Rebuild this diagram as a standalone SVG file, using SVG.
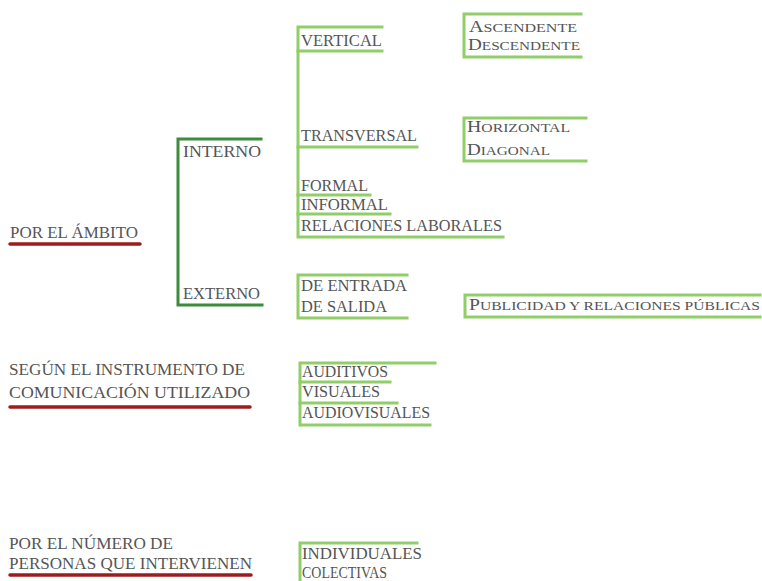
<svg xmlns="http://www.w3.org/2000/svg" width="762" height="581" viewBox="0 0 762 581">
<style>
text{font-family:"Liberation Serif","DejaVu Serif",serif;font-size:17px;fill:#555555;}
.s{text-transform:uppercase;font-size:13.5px;}
.t{font-size:16px;}
.lg{stroke:#8fce68;stroke-width:3;fill:none;stroke-linecap:square;}
.dg{stroke:#3d8b3d;stroke-width:3;fill:none;stroke-linecap:square;}
.rd{stroke:#9c1d1d;stroke-width:3.5;fill:none;stroke-linecap:round;}
</style>
<rect width="762" height="581" fill="#ffffff"/>
<g id="connectors">
<path class="dg" d="M261,139 H178 V305 H262"/>
<path class="lg" d="M382,27 H298 V237 H503"/>
<path class="lg" d="M298,51 H382"/>
<path class="lg" d="M298,147 H417"/>
<path class="lg" d="M298,195 H370"/>
<path class="lg" d="M298,214 H390"/>
<path class="lg" d="M581,14 H464 V57 H581"/>
<path class="lg" d="M586,118 H464 V161 H586"/>
<path class="lg" d="M407,275 H298 V318 H407"/>
<path class="lg" d="M760,295 H465 V317 H760"/>
<path class="lg" d="M435,363 H300 V425 H430"/>
<path class="lg" d="M300,382 H390"/>
<path class="lg" d="M300,403 H397"/>
<path class="lg" d="M417,543 H300 V581"/>
<path class="rd" d="M10,244 H140"/>
<path class="rd" d="M10,407 H250"/>
<path class="rd" d="M10,575 H251"/>
</g>
<g id="n-ambito"><text x="10" y="238" textLength="128" lengthAdjust="spacingAndGlyphs">POR EL ÁMBITO</text></g>
<g id="n-interno"><text x="183" y="157" textLength="78" lengthAdjust="spacingAndGlyphs">INTERNO</text></g>
<g id="n-externo"><text x="183" y="299" textLength="77" lengthAdjust="spacingAndGlyphs">EXTERNO</text></g>
<g id="n-vertical"><text x="301" y="46" textLength="81" lengthAdjust="spacingAndGlyphs">VERTICAL</text></g>
<g id="n-ascdesc">
<text x="469" y="32" textLength="108" lengthAdjust="spacingAndGlyphs">A<tspan class="s">scendente</tspan></text>
<text x="468" y="50" textLength="112" lengthAdjust="spacingAndGlyphs">D<tspan class="s">escendente</tspan></text>
</g>
<g id="n-transversal"><text x="301" y="141" textLength="116" lengthAdjust="spacingAndGlyphs">TRANSVERSAL</text></g>
<g id="n-hordiag">
<text x="467" y="132" textLength="103" lengthAdjust="spacingAndGlyphs">H<tspan class="s">orizontal</tspan></text>
<text x="467" y="155" textLength="83" lengthAdjust="spacingAndGlyphs">D<tspan class="s">iagonal</tspan></text>
</g>
<g id="n-formal"><text class="t" x="301" y="191" textLength="67" lengthAdjust="spacingAndGlyphs">FORMAL</text></g>
<g id="n-informal"><text class="t" x="301" y="210" textLength="87" lengthAdjust="spacingAndGlyphs">INFORMAL</text></g>
<g id="n-relaciones"><text x="301" y="231" textLength="201" lengthAdjust="spacingAndGlyphs">RELACIONES LABORALES</text></g>
<g id="n-entrada"><text x="301" y="291" textLength="106" lengthAdjust="spacingAndGlyphs">DE ENTRADA</text></g>
<g id="n-salida"><text x="301" y="312" textLength="86" lengthAdjust="spacingAndGlyphs">DE SALIDA</text></g>
<g id="n-publicidad"><text x="469" y="310" textLength="291" lengthAdjust="spacingAndGlyphs">P<tspan class="s">ublicidad y relaciones públicas</tspan></text></g>
<g id="n-instrumento">
<text x="9" y="375" textLength="236" lengthAdjust="spacingAndGlyphs">SEGÚN EL INSTRUMENTO DE</text>
<text x="9" y="398" textLength="241" lengthAdjust="spacingAndGlyphs">COMUNICACIÓN UTILIZADO</text>
</g>
<g id="n-auditivos"><text class="t" x="302" y="377" textLength="86" lengthAdjust="spacingAndGlyphs">AUDITIVOS</text></g>
<g id="n-visuales"><text class="t" x="302" y="397" textLength="78" lengthAdjust="spacingAndGlyphs">VISUALES</text></g>
<g id="n-audiovisuales"><text x="302" y="418" textLength="128" lengthAdjust="spacingAndGlyphs">AUDIOVISUALES</text></g>
<g id="n-numero">
<text x="9" y="549" textLength="164" lengthAdjust="spacingAndGlyphs">POR EL NÚMERO DE</text>
<text x="9" y="569" textLength="243" lengthAdjust="spacingAndGlyphs">PERSONAS QUE INTERVIENEN</text>
</g>
<g id="n-indcol">
<text x="302" y="559" textLength="120" lengthAdjust="spacingAndGlyphs">INDIVIDUALES</text>
<text x="302" y="578" textLength="85" lengthAdjust="spacingAndGlyphs">COLECTIVAS</text>
</g>
</svg>
